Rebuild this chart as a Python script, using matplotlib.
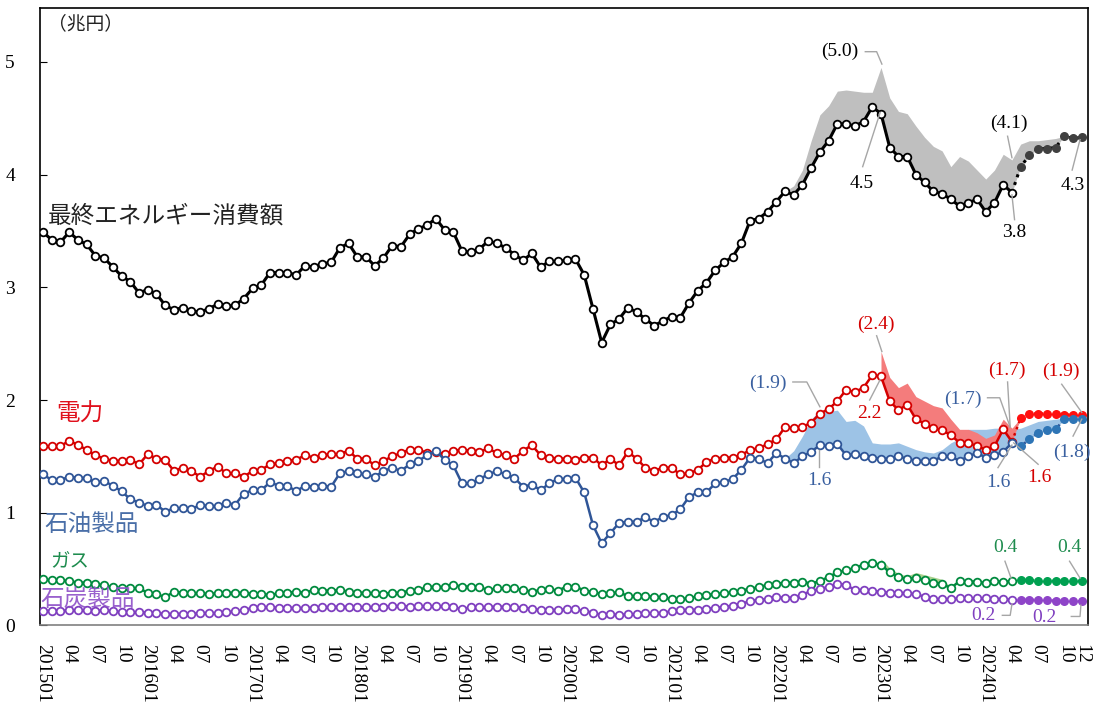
import matplotlib
matplotlib.use("Agg")
from matplotlib import pyplot as plt
import numpy as np

plt.rcParams['font.family'] = ['Liberation Serif', 'Noto Sans CJK JP']

# 2015-01 .. 2024-04 actual (112 months), 2024-05 .. 2024-12 forecast (8 months)
total = [3.49, 3.42, 3.40, 3.49, 3.42, 3.38, 3.28, 3.26, 3.18, 3.10, 3.05, 2.95,
         2.98, 2.94, 2.84, 2.80, 2.82, 2.79, 2.78, 2.81, 2.85, 2.83, 2.84, 2.90,
         2.99, 3.02, 3.13, 3.13, 3.13, 3.11, 3.19, 3.18, 3.21, 3.22, 3.35, 3.39,
         3.27, 3.27, 3.19, 3.26, 3.37, 3.36, 3.47, 3.52, 3.55, 3.61, 3.51, 3.49,
         3.32, 3.31, 3.34, 3.41, 3.39, 3.35, 3.29, 3.24, 3.30, 3.18, 3.23, 3.23,
         3.24, 3.25, 3.11, 2.81, 2.51, 2.67, 2.72, 2.82, 2.78, 2.72, 2.66, 2.70,
         2.74, 2.73, 2.86, 2.97, 3.04, 3.15, 3.22, 3.27, 3.39, 3.59, 3.61, 3.67,
         3.76, 3.85, 3.82, 3.91, 4.06, 4.20, 4.30, 4.45, 4.45, 4.43, 4.47, 4.60,
         4.54, 4.24, 4.16, 4.16, 4.00, 3.93, 3.85, 3.83, 3.78, 3.72, 3.75, 3.78,
         3.67, 3.75, 3.91, 3.84]
total_fc = [4.07, 4.17, 4.23, 4.23, 4.24, 4.34, 4.32, 4.33]
# without subsidies, 2022-02 .. 2024-12
total_ns = [3.85, 3.90, 4.04, 4.30, 4.53, 4.61, 4.74, 4.75, 4.74, 4.73, 4.73, 4.95,
            4.68, 4.56, 4.54, 4.43, 4.33, 4.25, 4.21, 4.07, 4.16, 4.12, 4.04, 3.96,
            4.04, 4.18, 4.13, 4.27, 4.30, 4.30, 4.31, 4.32, 4.34, 4.33, 4.33]

power = [1.59, 1.59, 1.59, 1.64, 1.60, 1.56, 1.51, 1.48, 1.46, 1.46, 1.47, 1.43,
         1.52, 1.48, 1.47, 1.37, 1.40, 1.37, 1.32, 1.37, 1.41, 1.35, 1.35, 1.32,
         1.37, 1.38, 1.43, 1.44, 1.46, 1.47, 1.51, 1.49, 1.51, 1.52, 1.52, 1.55,
         1.48, 1.48, 1.42, 1.46, 1.50, 1.53, 1.56, 1.56, 1.53, 1.54, 1.52, 1.55,
         1.56, 1.55, 1.54, 1.57, 1.53, 1.51, 1.48, 1.55, 1.60, 1.51, 1.49, 1.48,
         1.48, 1.47, 1.49, 1.49, 1.42, 1.48, 1.42, 1.54, 1.48, 1.40, 1.37, 1.40,
         1.40, 1.34, 1.35, 1.38, 1.45, 1.48, 1.49, 1.49, 1.51, 1.56, 1.57, 1.61,
         1.65, 1.76, 1.75, 1.76, 1.80, 1.88, 1.92, 1.99, 2.09, 2.07, 2.11, 2.22,
         2.21, 1.99, 1.91, 1.96, 1.83, 1.79, 1.75, 1.73, 1.69, 1.62, 1.62, 1.59,
         1.56, 1.59, 1.74, 1.63]
power_fc = [1.84, 1.88, 1.88, 1.88, 1.88, 1.87, 1.87, 1.87]
# 2023-01 .. 2024-05
power_ns = [2.43, 2.20, 2.11, 2.15, 2.03, 1.99, 1.95, 1.93, 1.83, 1.74, 1.74, 1.71,
            1.66, 1.69, 1.83, 1.75, 1.84]

oil = [1.34, 1.29, 1.29, 1.32, 1.31, 1.31, 1.27, 1.28, 1.24, 1.19, 1.12, 1.09,
       1.06, 1.07, 1.01, 1.04, 1.04, 1.03, 1.07, 1.06, 1.06, 1.09, 1.07, 1.17,
       1.20, 1.20, 1.27, 1.24, 1.24, 1.19, 1.24, 1.23, 1.24, 1.23, 1.35, 1.37,
       1.35, 1.34, 1.32, 1.37, 1.40, 1.37, 1.43, 1.46, 1.51, 1.55, 1.47, 1.42,
       1.26, 1.26, 1.30, 1.34, 1.37, 1.34, 1.31, 1.23, 1.25, 1.20, 1.26, 1.30,
       1.30, 1.31, 1.18, 0.89, 0.73, 0.82, 0.91, 0.92, 0.92, 0.96, 0.92, 0.96,
       0.98, 1.03, 1.14, 1.18, 1.18, 1.26, 1.27, 1.30, 1.38, 1.49, 1.48, 1.44,
       1.53, 1.48, 1.44, 1.50, 1.54, 1.60, 1.59, 1.61, 1.51, 1.52, 1.50, 1.49,
       1.48, 1.48, 1.50, 1.48, 1.46, 1.46, 1.46, 1.50, 1.50, 1.46, 1.50, 1.53,
       1.49, 1.51, 1.54, 1.62]
oil_fc = [1.59, 1.65, 1.71, 1.73, 1.74, 1.83, 1.83, 1.83]
# 2022-02 .. 2024-12
oil_ns = [1.48, 1.55, 1.68, 1.83, 1.91, 1.90, 1.91, 1.81, 1.82, 1.77, 1.62, 1.61,
          1.61, 1.62, 1.59, 1.56, 1.54, 1.53, 1.56, 1.62, 1.66, 1.74, 1.74, 1.74,
          1.75, 1.75, 1.74, 1.75, 1.78, 1.81, 1.82, 1.83, 1.84, 1.84, 1.84]

gas = [0.41, 0.40, 0.40, 0.395, 0.38, 0.38, 0.37, 0.355, 0.34, 0.33, 0.33, 0.33,
       0.29, 0.28, 0.25, 0.30, 0.29, 0.285, 0.285, 0.28, 0.285, 0.29, 0.29, 0.29,
       0.28, 0.28, 0.27, 0.285, 0.29, 0.30, 0.29, 0.315, 0.31, 0.31, 0.315, 0.30,
       0.29, 0.29, 0.285, 0.28, 0.29, 0.29, 0.31, 0.315, 0.34, 0.345, 0.34, 0.36,
       0.345, 0.345, 0.34, 0.315, 0.33, 0.33, 0.33, 0.315, 0.30, 0.315, 0.32, 0.31,
       0.345, 0.345, 0.31, 0.295, 0.28, 0.285, 0.295, 0.26, 0.26, 0.26, 0.255, 0.25,
       0.235, 0.235, 0.24, 0.26, 0.27, 0.28, 0.285, 0.295, 0.31, 0.325, 0.34, 0.36,
       0.37, 0.38, 0.38, 0.39, 0.37, 0.395, 0.43, 0.47, 0.49, 0.51, 0.54, 0.55,
       0.54, 0.47, 0.43, 0.41, 0.425, 0.40, 0.38, 0.37, 0.33, 0.395, 0.39, 0.39,
       0.375, 0.395, 0.385, 0.395]
gas_fc = [0.40, 0.405, 0.395, 0.395, 0.395, 0.395, 0.395, 0.395]
# 2023-01 .. 2023-09
gas_ns = [0.59, 0.51, 0.46, 0.44, 0.47, 0.45, 0.43, 0.41, 0.34]

coal = [0.13, 0.13, 0.13, 0.135, 0.135, 0.135, 0.13, 0.135, 0.128, 0.117, 0.12, 0.117,
        0.115, 0.108, 0.105, 0.10, 0.105, 0.103, 0.108, 0.112, 0.108, 0.117, 0.125, 0.135,
        0.158, 0.166, 0.16, 0.158, 0.158, 0.155, 0.155, 0.158, 0.16, 0.166, 0.166, 0.166,
        0.166, 0.16, 0.166, 0.166, 0.17, 0.175, 0.167, 0.17, 0.17, 0.17, 0.17, 0.16,
        0.147, 0.16, 0.16, 0.166, 0.166, 0.166, 0.16, 0.158, 0.147, 0.138, 0.138, 0.138,
        0.142, 0.142, 0.13, 0.114, 0.093, 0.10, 0.093, 0.10, 0.10, 0.107, 0.107, 0.115,
        0.125, 0.135, 0.14, 0.14, 0.148, 0.155, 0.166, 0.175, 0.19, 0.218, 0.227, 0.236,
        0.25, 0.247, 0.247, 0.27, 0.31, 0.32, 0.345, 0.37, 0.36, 0.315, 0.315, 0.305,
        0.30, 0.29, 0.29, 0.285, 0.277, 0.256, 0.235, 0.235, 0.235, 0.24, 0.24, 0.24,
        0.24, 0.235, 0.235, 0.227]
coal_fc = [0.227, 0.227, 0.227, 0.223, 0.22, 0.215, 0.215, 0.215]

n_act = len(total)
x_act = np.arange(n_act)
x_fc = np.arange(n_act, n_act + len(total_fc))
x_all = np.arange(n_act + len(total_fc))

fig = plt.figure(figsize=(10.95, 7.02), dpi=100)
ax = fig.add_axes([0.0365, 0.109, 0.957, 0.88])

# shaded gaps (no-subsidy level vs actual)
full_total = np.array(total + total_fc)
full_oil = np.array(oil + oil_fc)
full_power = np.array(power + power_fc)
full_gas = np.array(gas + gas_fc)

s = 85
ax.fill_between(x_all[s:s + len(total_ns)], full_total[s:s + len(total_ns)], total_ns,
                color='#bfbfbf', lw=0, zorder=1)
ax.fill_between(x_all[s:s + len(oil_ns)], full_oil[s:s + len(oil_ns)], oil_ns,
                color='#9dc3e6', lw=0, zorder=1)
s = 96
ax.fill_between(x_all[s:s + len(power_ns)], full_power[s:s + len(power_ns)], power_ns,
                color='#f47c7c', lw=0, zorder=1.1)
ax.fill_between(x_all[s:s + len(gas_ns)], full_gas[s:s + len(gas_ns)], gas_ns,
                color='#a9d18e', lw=0, zorder=1)

series = [
    (total, total_fc, 'black', '#404040', 2.2),
    (power, power_fc, '#d40000', '#ff1010', 1.8),
    (oil, oil_fc, '#2f5597', '#2e75b6', 1.8),
    (gas, gas_fc, '#008a3e', '#00a050', 1.8),
    (coal, coal_fc, '#7f3fbf', '#8e44c8', 1.8),
]
for act, fc, col, fcol, lw in series:
    ax.plot(x_act, act, '-', color=col, lw=lw, marker='o', ms=5.5,
            mfc='white', mec=col, mew=1.3, zorder=3)
    ax.plot(np.r_[x_act[-1], x_fc], [act[-1]] + fc, ':', color=col, lw=lw, zorder=2.5)
    ax.plot(x_fc, fc, 'o', color=fcol, ms=6.5, mew=0, zorder=3)

# series names
ax.text(0.6, 3.63, '最終エネルギー消費額', fontsize=17, color='#222222', va='center')
ax.text(1.5, 1.87, '電力', fontsize=17, color='#e0101c', va='center')
ax.text(0.2, 0.89, '石油製品', fontsize=17, color='#4a6fa8', va='center')
ax.text(0.8, 0.56, 'ガス', fontsize=14, color='#1e8c4e', va='center')
ax.text(-0.3, 0.22, '石炭製品', fontsize=17, color='#8e50c8', va='center', alpha=0.9)
ax.text(0.6, 5.33, '（兆円）', fontsize=13.5, color='#222222', va='center')

# value labels with leader lines
labels = [
    ('(5.0)', 91.3, 5.09, 'black', [(94.2, 5.09), (95.5, 5.09), (96.1, 4.98)]),
    ('4.5', 93.8, 3.92, 'black', [(93.9, 4.07), (95.9, 4.55)]),
    ('(4.1)', 110.7, 4.45, 'black', [(110.5, 4.34), (111.0, 4.15)]),
    ('3.8', 111.3, 3.49, 'black', [(111.3, 3.60), (111.0, 3.82)]),
    ('4.3', 118.0, 3.90, 'black', [(117.9, 4.04), (118.8, 4.31)]),
    ('(2.4)', 95.4, 2.67, '#d40000', [(95.5, 2.57), (96.1, 2.43)]),
    ('2.2', 94.7, 1.88, '#d40000', [(94.7, 2.00), (95.9, 2.18)]),
    ('(1.9)', 83.0, 2.15, '#3a60a0', [(85.9, 2.16), (87.5, 2.16), (89.0, 1.94)]),
    ('1.6', 89.0, 1.29, '#3a60a0', [(88.9, 1.41), (88.9, 1.56)]),
    ('(1.7)', 105.4, 2.01, '#3a60a0', [(108.2, 2.02), (109.6, 2.02), (110.8, 1.76)]),
    ('(1.7)', 110.4, 2.26, '#d40000', [(110.5, 2.16), (110.8, 1.76)]),
    ('1.6', 109.4, 1.27, '#3a60a0', [(109.4, 1.40), (111.0, 1.60)]),
    ('1.6', 114.2, 1.31, '#d40000', [(114.0, 1.43), (111.2, 1.62)]),
    ('(1.9)', 116.6, 2.25, '#d40000', [(116.7, 2.14), (119.0, 1.89)]),
    ('(1.8)', 117.9, 1.54, '#3a60a0', [(118.0, 1.68), (119.0, 1.83)]),
    ('0.4', 110.2, 0.69, '#1e8c4e', [(110.2, 0.57), (110.9, 0.42)]),
    ('0.4', 117.6, 0.69, '#1e8c4e', [(117.6, 0.57), (118.8, 0.42)]),
    ('0.2', 107.7, 0.085, '#8040c0', [(109.9, 0.09), (110.8, 0.09), (111.0, 0.19)]),
    ('0.2', 114.7, 0.075, '#8040c0', [(117.8, 0.08), (118.8, 0.08), (118.9, 0.18)]),
]
for txt, tx, ty, col, pts in labels:
    ax.text(tx, ty, txt, fontsize=14, color=col, ha='center', va='center', zorder=5)
    px, py = zip(*pts)
    ax.plot(px, py, '-', color='#a6a6a6', lw=1.0, zorder=4)

# axes
ax.set_xlim(-0.35, 119.7)
ax.set_ylim(0, 5.48)
ax.set_yticks([0, 1, 2, 3, 4, 5])
ax.set_yticklabels(['0', '1', '2', '3', '4', '5'])
ax.tick_params(axis='y', direction='in', length=5, labelsize=14, pad=18)

ticks = list(range(0, 120, 3)) + [119]
tick_labels = []
for i in ticks:
    yr = 2015 + i // 12
    mo = i % 12 + 1
    tick_labels.append(f'{yr}{mo:02d}' if mo == 1 else f'{mo:02d}')
ax.set_xticks(ticks)
ax.set_xticklabels(tick_labels, rotation=270, ha='center', va='top')
ax.tick_params(axis='x', length=0, labelsize=14, pad=13)

for side in ['left', 'top', 'right']:
    ax.spines[side].set_color('black')
    ax.spines[side].set_linewidth(1.2)
ax.spines['bottom'].set_color('#808080')
ax.spines['bottom'].set_linewidth(1.2)

fig.savefig('out.png', dpi=100)
